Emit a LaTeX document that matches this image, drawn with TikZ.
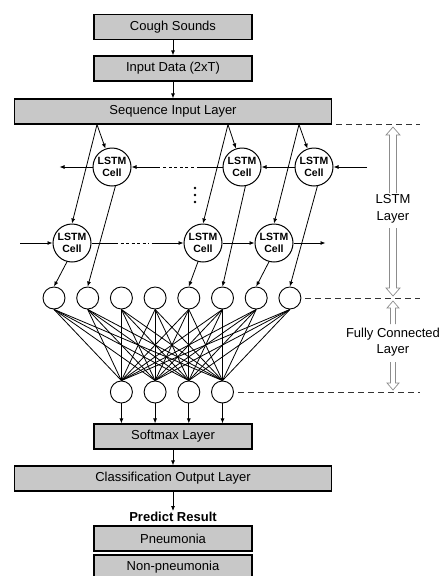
\documentclass[tikz,border=0pt]{standalone}
\usepackage{fontspec}
\setmainfont{Liberation Sans}
\usetikzlibrary{arrows.meta}
\definecolor{boxgray}{RGB}{200,200,200}
\begin{document}
\begin{tikzpicture}[x=1pt,y=-1pt,>={Latex[length=5pt,width=4pt]},
every node/.style={font=\fontsize{13}{15}\selectfont},
layerbox/.style={draw,line width=1.2pt,fill=boxgray,minimum height=25pt,inner sep=0pt},
lstmcell/.style={circle,draw,line width=1pt,fill=white,minimum size=38pt,inner sep=0pt,align=center,font=\fontsize{10.5}{12}\selectfont\bfseries},
fcnode/.style={circle,draw,line width=0.9pt,fill=white,minimum size=22pt,inner sep=0pt},
conn/.style={line width=0.8pt},
dotted gap/.style={line width=0.8pt,dash pattern=on 3pt off 2.5pt},
guide/.style={line width=0.8pt,black!80,dash pattern=on 6pt off 4pt},
hollow/.style={draw=black!45,line width=0.7pt}]

\useasboundingbox (0,0) rectangle (440,576);

% input side
\node[layerbox,minimum width=158pt] (cough) at (173,27) {Cough Sounds};
\node[layerbox,minimum width=158pt] (input) at (173,68.5) {Input Data (2xT)};
\node[layerbox,minimum width=317pt] (seq) at (173,111.5) {Sequence Input Layer};

\draw[conn,->] (cough) -- (input);
\draw[conn,->] (input) -- (seq);

% LSTM cells, backward row and forward row
\node[lstmcell] (bw1) at (112,167) {LSTM\\Cell};
\node[lstmcell] (bw2) at (242,167) {LSTM\\Cell};
\node[lstmcell] (bw3) at (314,167) {LSTM\\Cell};
\node[lstmcell] (fw1) at (72,243) {LSTM\\Cell};
\node[lstmcell] (fw2) at (203,243) {LSTM\\Cell};
\node[lstmcell] (fw3) at (274,243) {LSTM\\Cell};

\coordinate (s1) at ([xshift=-76pt]seq.south);
\coordinate (s2) at ([xshift=55pt]seq.south);
\coordinate (s3) at ([xshift=126pt]seq.south);
\foreach \i in {1,2,3} {
  \draw[conn,->] (s\i) -- (bw\i);
  \draw[conn,->] (s\i) -- (fw\i.north);
}

% backward direction
\coordinate (bwin) at (367,167);
\draw[conn,->] (bwin) -- (bw3);
\draw[conn,->] (bw3) -- (bw2);
\draw[conn] (bw2.west) -- ++(-26,0) coordinate (bwa);
\draw[dotted gap] (bwa) ++(-3,0) -- ++(-31,0) coordinate (bwb);
\draw[conn,->] (bwb) ++(-3,0) -- (bw1);
\draw[conn,->] (bw1.west) -- ++(-33,0);

% forward direction
\coordinate (fwin) at (20,243);
\draw[conn,->] (fwin) -- (fw1);
\draw[conn] (fw1.east) -- ++(26,0) coordinate (fwa);
\draw[dotted gap] (fwa) ++(3,0) -- ++(28,0) coordinate (fwb);
\draw[conn,->] (fwb) ++(3,0) -- (fw2);
\draw[conn,->] (fw2) -- (fw3);
\draw[conn,->] (fw3.east) -- ++(32,0);

\foreach \y in {188,195,202} \fill (195,\y) circle (1.4pt);

% fully connected layer
\foreach \i in {1,...,8} {
  \pgfmathsetmacro\xpos{54+(\i-1)*33.7}
  \node[fcnode] (t\i) at (\xpos,298) {};
}
\foreach \j in {1,...,4} {
  \pgfmathsetmacro\xpos{121.4+(\j-1)*33.7}
  \node[fcnode] (o\j) at (\xpos,392) {};
}
\foreach \i in {1,...,8}
  \foreach \j in {1,...,4}
    \draw[conn] (t\i.south) -- (o\j.north);

\foreach \c/\t in {bw1/2,bw2/6,bw3/8}
  \draw[conn,->] (\c.-80) -- (t\t.north);
\foreach \c/\t in {fw1/1,fw2/5,fw3/7}
  \draw[conn,->] (\c.-105) -- (t\t.north);

% output side
\node[layerbox,minimum width=158pt] (softmax) at (173,436.5) {Softmax Layer};
\foreach \j in {1,...,4}
  \draw[conn,->] (o\j.south) -- (o\j.south |- softmax.north);
\node[layerbox,minimum width=317pt] (classout) at (173,478.5) {Classification Output Layer};
\draw[conn,->] (softmax) -- (classout);
\node[font=\fontsize{13}{15}\selectfont\bfseries,inner sep=1pt] (predict) at (173,517) {Predict Result};
\draw[conn,->] (classout) -- (predict);
\node[layerbox,minimum width=158pt] (pneu) at (173,538.5) {Pneumonia};
\node[layerbox,minimum width=158pt] (nonpneu) at (173,567.5) {Non-pneumonia};

% layer extents on the right
\coordinate (rim) at (420,0);
\draw[guide] (seq.south east) ++(4,0) -- (seq.south -| rim);
\draw[guide] (t8.east) ++(4,0) -- (t8.east -| rim);
\draw[guide] (o4.east) ++(4,0) -- (o4.east -| rim);

\foreach \tip/\base/\tail/\sw/\hw in {127/135/193/3.5/7,296/288/228/3.5/7,301/308/324/2.5/6,390/383/362/2.5/6}
  \draw[hollow] (393-\sw,\tail) -- (393-\sw,\base) -- (393-\hw,\base) -- (393,\tip)
    -- (393+\hw,\base) -- (393+\sw,\base) -- (393+\sw,\tail);

\node[align=center,font=\fontsize{13}{17}\selectfont] (lstmlabel) at (393,209) {LSTM\\Layer};
\node[align=center,font=\fontsize{13}{16}\selectfont] (fclabel) at (393,342) {Fully Connected\\Layer};

\end{tikzpicture}
\end{document}
